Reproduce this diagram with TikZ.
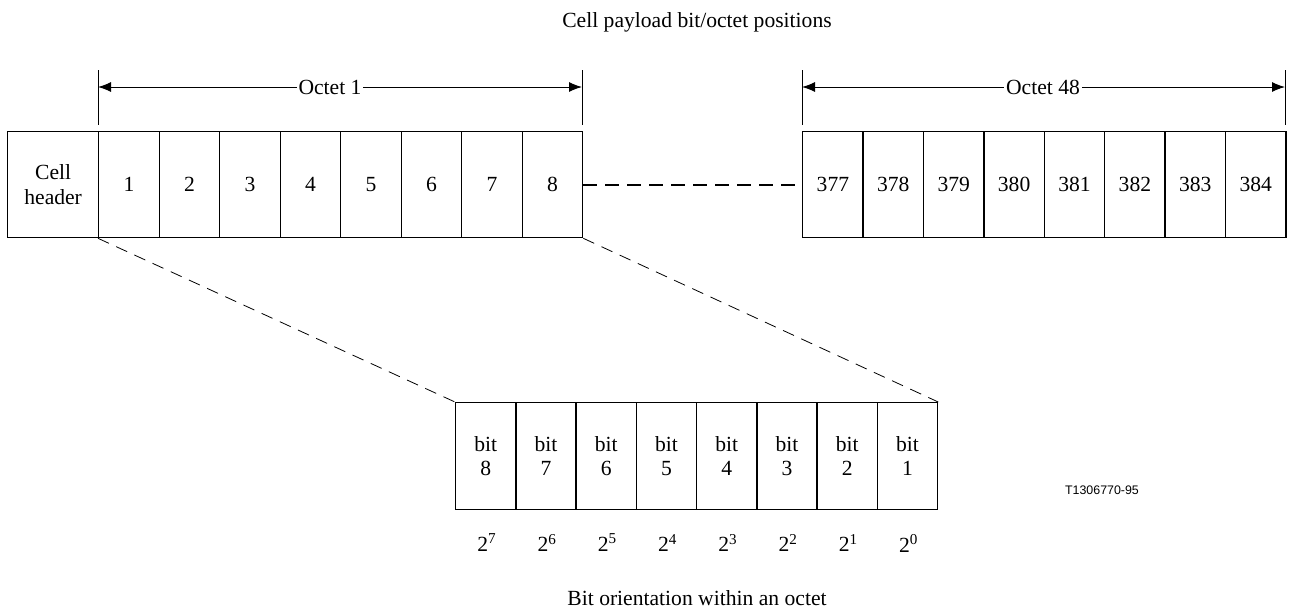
\documentclass[tikz,border=0pt]{standalone}
\usepackage{fontspec}
\setmainfont{Liberation Serif}
\newfontfamily\labelsans{Liberation Sans}
\usetikzlibrary{arrows.meta}
\begin{document}
\begin{tikzpicture}[x=0.5pt,y=-0.5pt,
  font=\fontsize{10.8}{12.2}\selectfont,
  cellbox/.style={draw,line width=0.65pt,minimum width=30.25pt,minimum height=53pt,
    inner sep=0pt,anchor=north west,align=center},
  hdrbox/.style={cellbox,minimum width=45.5pt},
  bitbox/.style={cellbox,minimum width=30.1pt,minimum height=53.5pt},
  dimline/.style={line width=0.5pt,{Latex[length=6.5pt,width=5pt]}-{Latex[length=6.5pt,width=5pt]}},
  tickline/.style={line width=0.5pt},
  gapline/.style={line width=1pt,dash pattern=on 7pt off 4pt},
  fanline/.style={line width=0.4pt,dash pattern=on 6pt off 4pt},
  dimlabel/.style={fill=white,inner sep=1pt}]
\useasboundingbox (0,0) rectangle (1290,612);

% title
\node (title) at (697,22) {Cell payload bit/octet positions};

% first group: cell header and octet 1
\node[hdrbox] (hdr) at (7,131) {Cell\\header};
\foreach \i in {1,...,8}{
  \node[cellbox] (c\i) at ({98+(\i-1)*60.5},131) {\i};
}

% last group: octet 48
\foreach \i [count=\k] in {377,...,384}{
  \node[cellbox] (d\k) at ({802+(\k-1)*60.4},131) {\i};
}

% dimension marks above the groups
\coordinate (t1a) at (98,70);  \coordinate (t1b) at (98,125);
\coordinate (t2a) at (582,70); \coordinate (t2b) at (582,125);
\coordinate (t3a) at (802,70); \coordinate (t3b) at (802,125);
\coordinate (t4a) at (1285,70);\coordinate (t4b) at (1285,125);
\draw[tickline] (t1a) -- (t1b);
\draw[tickline] (t2a) -- (t2b);
\draw[tickline] (t3a) -- (t3b);
\draw[tickline] (t4a) -- (t4b);
\coordinate (a1l) at (98,87);  \coordinate (a1r) at (582,87);
\coordinate (a2l) at (802,87); \coordinate (a2r) at (1285,87);
\draw[dimline] (a1l) -- (a1r);
\draw[dimline] (a2l) -- (a2r);
\node[dimlabel] (o1) at (330,87) {Octet 1};
\node[dimlabel] (o48) at (1043,87) {Octet 48};

% link between the two groups
\draw[gapline] (c8.east) -- (d1.west);

% expanded octet
\foreach \i in {1,...,8}{
  \pgfmathtruncatemacro{\b}{9-\i}
  \pgfmathtruncatemacro{\e}{8-\i}
  \node[bitbox] (b\i) at ({455+(\i-1)*60.25},402) {bit\\\b};
  \node (p\i) at ({487+(\i-1)*60.25},543) {2\textsuperscript{\e}};
}

% fan lines from octet 1 to its bits
\draw[fanline] (c1.south west) -- (b1.north west);
\draw[fanline] (c8.south east) -- (b8.north east);

\node (cap) at (697,598) {Bit orientation within an octet};
\node[font=\labelsans\fontsize{6.2}{7}\selectfont] (ref) at (1102,490) {T1306770-95};
\end{tikzpicture}
\end{document}
